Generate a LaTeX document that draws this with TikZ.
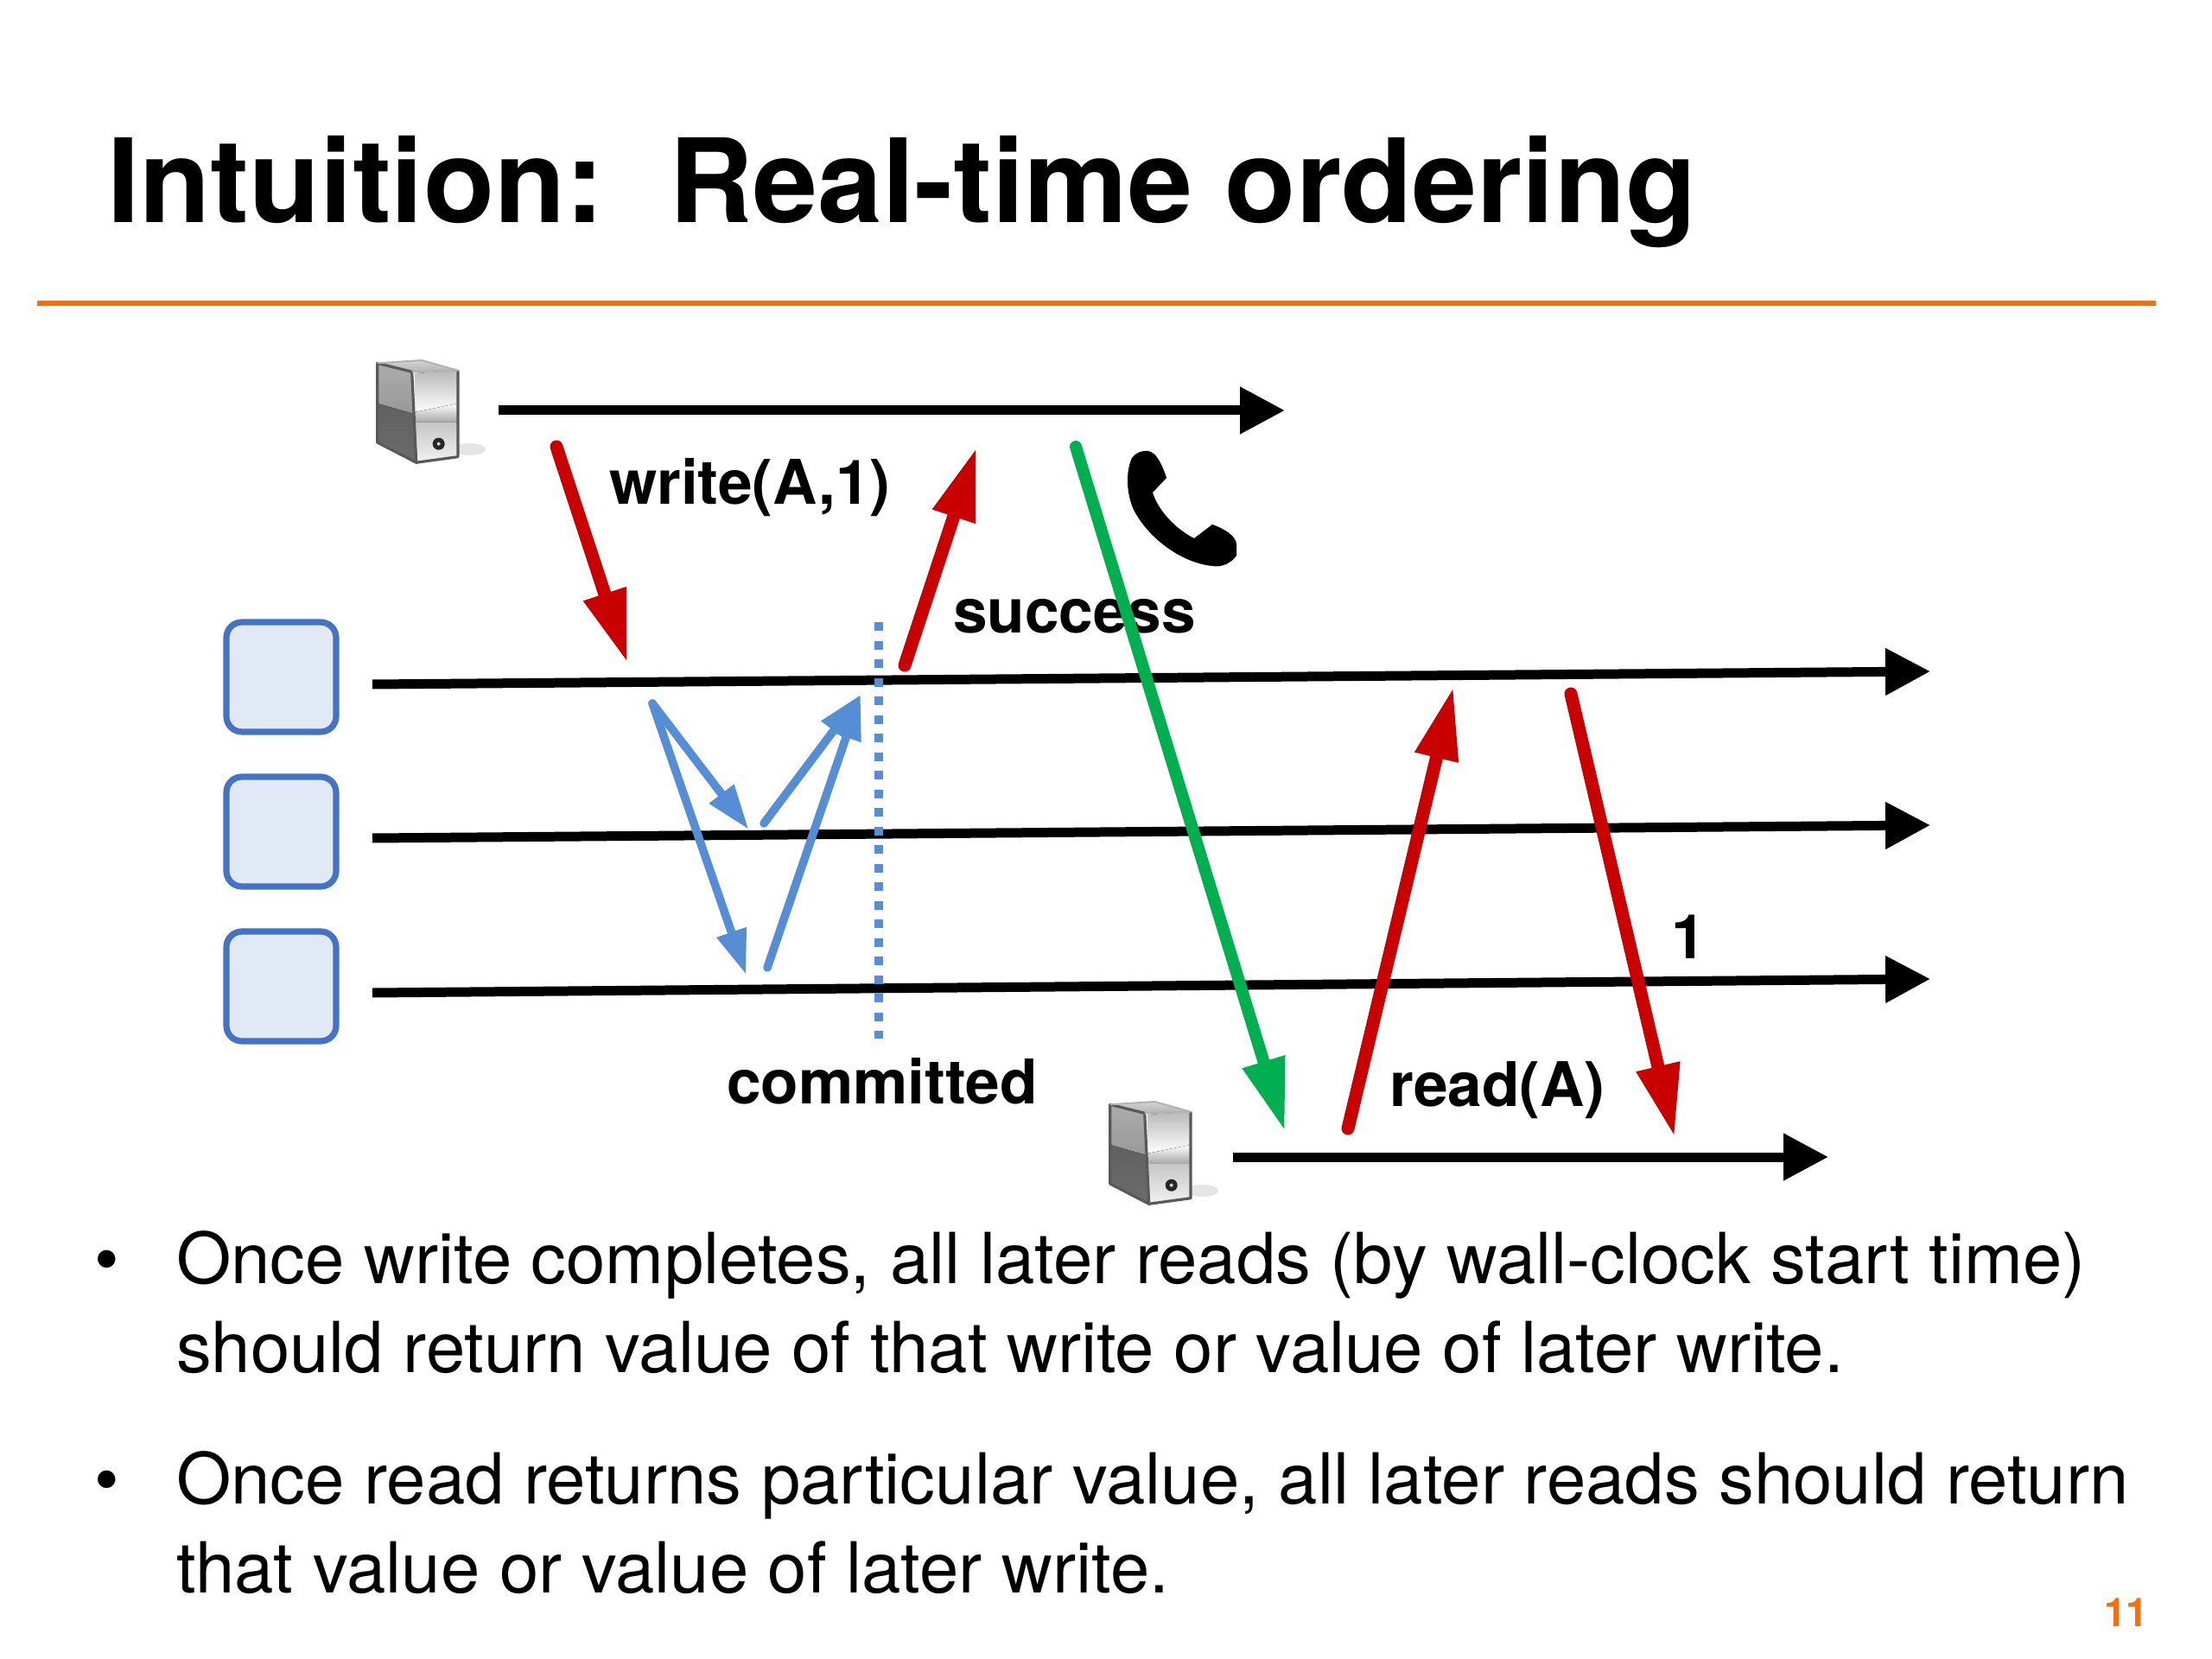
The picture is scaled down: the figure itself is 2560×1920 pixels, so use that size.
\documentclass[tikz,border=0pt]{standalone}
\usepackage{fontspec}
\setmainfont{TeX Gyre Heros}
\usetikzlibrary{arrows.meta,calc}
\definecolor{redarrow}{HTML}{C80000}
\definecolor{greenarrow}{HTML}{00B050}
\definecolor{bluearrow}{HTML}{558ED5}
\definecolor{boxborder}{HTML}{4472C4}
\definecolor{boxfill}{HTML}{E2E9F6}
\definecolor{orangeline}{HTML}{F4700F}
\tikzset{
  txt/.style={anchor=base west,inner sep=0pt,outer sep=0pt,text=black},
  title/.style={txt,font=\fontsize{67.3}{67.3}\selectfont\bfseries},
  label/.style={txt,font=\fontsize{35.6}{35.6}\selectfont\bfseries},
  bodytxt/.style={txt,font=\fontsize{40.75}{40.75}\selectfont},
  timeline/.style={line width=5.5pt,draw=black,-{Triangle[length=26pt,width=26pt]}},
  redmsg/.style={line width=7.5pt,draw=redarrow,line cap=round,-{Triangle[length=42pt,width=24pt]}},
  greenmsg/.style={line width=7pt,draw=greenarrow,line cap=round,-{Triangle[length=42pt,width=24pt]}},
  bluemsg/.style={line width=4.8pt,draw=bluearrow,line cap=round,-{Triangle[length=26pt,width=17pt]}},
  replica/.style={draw=boxborder,fill=boxfill,line width=3.6pt,rounded corners=9pt,minimum width=63.5pt,minimum height=63.5pt,inner sep=0pt},
  server/.pic={
    \fill[gray!20] (108,103) ellipse (19 and 7);
    \fill[top color=gray!35,bottom color=gray!60] (1.7,3.3) -- (53.3,0) -- (95,11.7) -- (41.7,13.3) -- cycle;
    \fill[top color=gray!65,bottom color=gray!80] (1.7,3.3) -- (41.7,13.3) -- (44,62) -- (1.7,50) -- cycle;
    \fill[top color=black!62,bottom color=black!58] (1.7,50) -- (44,62) -- (46.7,118.3) -- (1.7,95) -- cycle;
    \fill[top color=gray!55,bottom color=white] (45,15) -- (95,11.7) -- (95,50) -- (45,60) -- cycle;
    \fill[top color=white,bottom color=gray!70] (45,60) -- (95,50) -- (95,72) -- (45,72) -- cycle;
    \fill[top color=gray!45,bottom color=gray!10] (45,72) -- (95,72) -- (95,111.7) -- (46.7,118.3) -- cycle;
    \draw[line width=1.6pt,draw=gray!70!black,line join=round] (95,11.7) -- (95,111.7) -- (46.7,118.3) -- (1.7,95) -- (1.7,3.3) -- (41.7,13.3) -- (46.7,118.3);
    \draw[line width=1pt,draw=gray!60,line join=round] (1.7,3.3) -- (53.3,0) -- (95,11.7) -- (41.7,13.3);
    \fill[black!85] (72.7,96.7) circle (7);
    \fill[gray!35] (72.7,96.7) circle (2);
  },
}
\begin{document}
\begin{tikzpicture}[x=0.5pt,y=-0.5pt]
\useasboundingbox (0,0) rectangle (2560,1920);
\fill[white] (0,0) rectangle (2560,1920);
% title
\node[title] (ttl) at (124,258) {Intuition:\ \ Real-time ordering};
\coordinate (ruleL) at (43,351);
\coordinate (ruleR) at (2495,351);
\draw[orangeline,line width=2.6pt] (ruleL) -- (ruleR);
% servers
\pic (srvA) at (435,417) {server};
\pic (srvB) at (1283,1275) {server};
% replica boxes
\node[replica] (r1) at (325.5,783.5) {};
\node[replica] (r2) at (325.5,962.5) {};
\node[replica] (r3) at (325.5,1141.5) {};
% timelines
\coordinate (t0a) at (577,475); \coordinate (t0b) at (1487,475);
\coordinate (t1a) at (431,792); \coordinate (t1b) at (2234,777);
\coordinate (t2a) at (431,970); \coordinate (t2b) at (2234,955);
\coordinate (t3a) at (431,1149); \coordinate (t3b) at (2234,1133);
\coordinate (t4a) at (1427,1339); \coordinate (t4b) at (2116,1339);
\draw[timeline] (t0a) -- (t0b);
\draw[timeline] (t1a) -- (t1b);
\draw[timeline] (t2a) -- (t2b);
\draw[timeline] (t3a) -- (t3b);
\draw[timeline] (t4a) -- (t4b);
% commit line
\coordinate (c0) at (1017,720); \coordinate (c1) at (1017,1202);
\draw[bluearrow,line width=5pt,dash pattern=on 5.2pt off 5.55pt] (c0) -- (c1);
% blue protocol
\coordinate (b0) at (755,814);
\coordinate (b1) at (866.5,960);
\coordinate (b2) at (863.5,1128);
\coordinate (b3) at (884,953);
\coordinate (b4) at (888,1120);
\coordinate (b5) at (996,804);
\draw[bluemsg] (b0) -- (b1);
\draw[bluemsg] (b0) -- (b2);
\draw[bluemsg] (b3) -- (b5);
\draw[bluemsg] (b4) -- (b5);
% red and green messages
\coordinate (w0) at (644,517); \coordinate (w1) at (726,767);
\coordinate (s0) at (1047,770); \coordinate (s1) at (1130,518);
\coordinate (g0) at (1245,517); \coordinate (g1) at (1487,1309);
\coordinate (q0) at (1560,1306); \coordinate (q1) at (1682,795);
\coordinate (p0) at (1818,803); \coordinate (p1) at (1938,1316);
\draw[redmsg] (w0) -- (w1);
\draw[redmsg] (s0) -- (s1);
\draw[redmsg] (q0) -- (q1);
\draw[redmsg] (p0) -- (p1);
% phone
\fill[black] (1329,522) .. controls (1338,524) and (1344,535) .. (1350,553)
  -- (1334,570) .. controls (1340,590) and (1360,612) .. (1382,623)
  -- (1403,607) .. controls (1415,611) and (1431,620) .. (1431,630)
  -- (1431,643) .. controls (1425,652) and (1413,657) .. (1403,655)
  .. controls (1370,652) and (1330,625) .. (1312,590)
  .. controls (1303,570) and (1303,545) .. (1310,530)
  .. controls (1314,524) and (1322,521) .. (1329,522) -- cycle;
% labels
\node[label] (lw) at (705,583) {write(A,1)};
\node[label] (ls) at (1103,732) {success};
\node[label] (lc) at (841,1277) {committed};
\node[label] (lr) at (1608,1280) {read(A)};
\node[label] (l1) at (1934,1109) {1};
% green arrow runs over the label
\draw[greenmsg] (g0) -- (g1);
% body
\node[bodytxt] (d1) at (109,1485) {•};
\node[bodytxt] (d2) at (109,1740) {•};
\node[bodytxt] (a1) at (204,1485) {Once write completes, all later reads (by wall-clock start time)};
\node[bodytxt] (a2) at (204,1588) {should return value of that write or value of later write.};
\node[bodytxt] (a3) at (204,1740) {Once read returns particular value, all later reads should return};
\node[bodytxt] (a4) at (204,1843) {that value or value of later write.};
\node[txt,text=orangeline,font=\fontsize{23}{23}\selectfont\bfseries] (pg) at (2435,1882) {11};
\end{tikzpicture}
\end{document}
